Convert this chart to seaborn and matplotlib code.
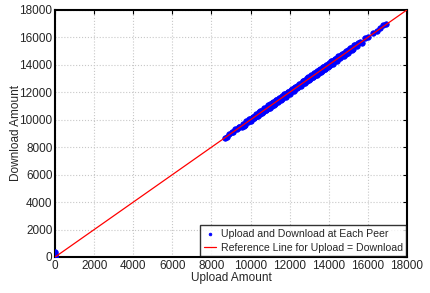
import numpy as np
import pandas as pd
import matplotlib
matplotlib.use("Agg")
import matplotlib.pyplot as plt
import seaborn as sns

# ---------------------------------------------------------------------
# Values (upload vs download per peer)
# ---------------------------------------------------------------------
upload = [0, 0, 0, 0, 0,
          8700, 8780, 9050, 9120, 9200, 9330, 9410, 9540, 9610, 9700,
          9790, 9860, 9950, 10040, 10110, 10190, 10260, 10340, 10420, 10490,
          10560, 10640, 10710, 10790, 10860, 10940, 11010, 11090, 11160, 11240,
          11310, 11390, 11460, 11540, 11610, 11690, 11760, 11840, 11910, 11990,
          12060, 12140, 12210, 12290, 12360, 12440, 12510, 12590, 12660, 12740,
          12810, 12890, 12960, 13040, 13110, 13190, 13260, 13340, 13410, 13490,
          13560, 13640, 13710, 13790, 13860, 13940, 14010, 14090, 14160, 14240,
          14310, 14390, 14460, 14540, 14610, 14690, 14800, 14880, 14970, 15060,
          15150, 15240, 15350, 15460, 15580, 15700, 15850, 16000, 16250, 16450,
          16650, 16800, 16950,
          9900, 10100, 10300, 10500, 10700, 10900, 11100, 11300, 11500, 11700,
          11900, 12100, 12300, 12500, 12700, 12900, 13100, 13300, 13500, 13700,
          13900, 14100, 14300, 14500, 14700, 14900, 15100, 15300, 15500,
          10000, 10400, 10800, 11200, 11600, 12000, 12400, 12800, 13200, 13600,
          14000, 14400, 14800, 15200,
          10200, 10600, 11000, 11400, 11800, 12200, 12600, 13000, 13400, 13800,
          14200, 14600, 15000, 9400, 9650, 8900]
download = [0, 80, 160, 250, 330,
            8690, 8740, 9110, 9080, 9290, 9300, 9480, 9500, 9700, 9650,
            9880, 9800, 10060, 9990, 10200, 10130, 10350, 10280, 10530, 10430,
            10650, 10590, 10820, 10730, 10960, 10880, 11120, 11030, 11270, 11170,
            11420, 11330, 11580, 11470, 11720, 11630, 11880, 11780, 12030, 11920,
            12180, 12080, 12330, 12220, 12480, 12380, 12640, 12520, 12790, 12670,
            12930, 12830, 13090, 12970, 13230, 13120, 13380, 13270, 13530, 13420,
            13680, 13580, 13830, 13720, 13980, 13870, 14130, 14020, 14280, 14170,
            14420, 14330, 14580, 14470, 14720, 14620, 14900, 14820, 15080, 14990,
            15250, 15170, 15450, 15380, 15660, 15620, 15930, 16050, 16320, 16480,
            16700, 16900, 16980,
            10020, 10230, 10410, 10640, 10810, 11050, 11200, 11440, 11610, 11850,
            12010, 12250, 12400, 12640, 12810, 13050, 13200, 13440, 13610, 13850,
            14010, 14250, 14400, 14640, 14800, 15030, 15210, 15420, 15620,
            9880, 10290, 10680, 11080, 11480, 11880, 12280, 12680, 13080, 13480,
            13880, 14280, 14680, 15090,
            10110, 10500, 10890, 11300, 11690, 12100, 12490, 12900, 13290, 13690,
            14090, 14480, 14890, 9480, 9560, 8950]

ref_x = [0, 18000]
ref_y = [0, 18000]

df = pd.DataFrame({"Upload": upload, "Download": download})

sns.set_style("white")
plt.rcParams["font.family"] = ["Liberation Sans", "DejaVu Sans"]
plt.rcParams["font.size"] = 8.5

fig = plt.figure(figsize=(4.31, 2.93), dpi=100)
ax = fig.add_axes([0.128, 0.123, 0.816, 0.843])

sns.scatterplot(x="Upload", y="Download", data=df, ax=ax, color="blue",
                marker="o", s=16, edgecolor="blue", linewidth=0.5, zorder=3,
                label="Upload and Download at Each Peer")
sns.lineplot(x=ref_x, y=ref_y, ax=ax, color="red", linewidth=0.9, zorder=4,
             label="Reference Line for Upload = Download")

ax.set_xlim(0, 18000)
ax.set_ylim(0, 18000)
ax.set_xticks(np.arange(0, 18001, 2000))
ax.set_yticks(np.arange(0, 18001, 2000))
ax.grid(True, linestyle=":", color="#c8c8c8", linewidth=0.8)
ax.tick_params(direction="in", length=3, top=True, right=True, labelsize=8.5,
               pad=2, color="black")
for sp in ax.spines.values():
    sp.set_color("black")
    sp.set_linewidth(1.5)

ax.set_xlabel("Upload Amount", fontsize=8.5)
ax.set_ylabel("Download Amount", fontsize=8.5)
ax.xaxis.set_label_coords(0.5, -0.06)
ax.yaxis.set_label_coords(-0.093, 0.5)

leg = ax.legend(loc="lower right", fontsize=7.6, frameon=True, fancybox=False,
                borderpad=0.35, handlelength=1.2, handletextpad=0.4,
                labelspacing=0.35, borderaxespad=0.05, markerscale=0.5)
leg.get_frame().set_edgecolor("black")
leg.get_frame().set_linewidth(1.0)

fig.savefig("out.png", dpi=100)
